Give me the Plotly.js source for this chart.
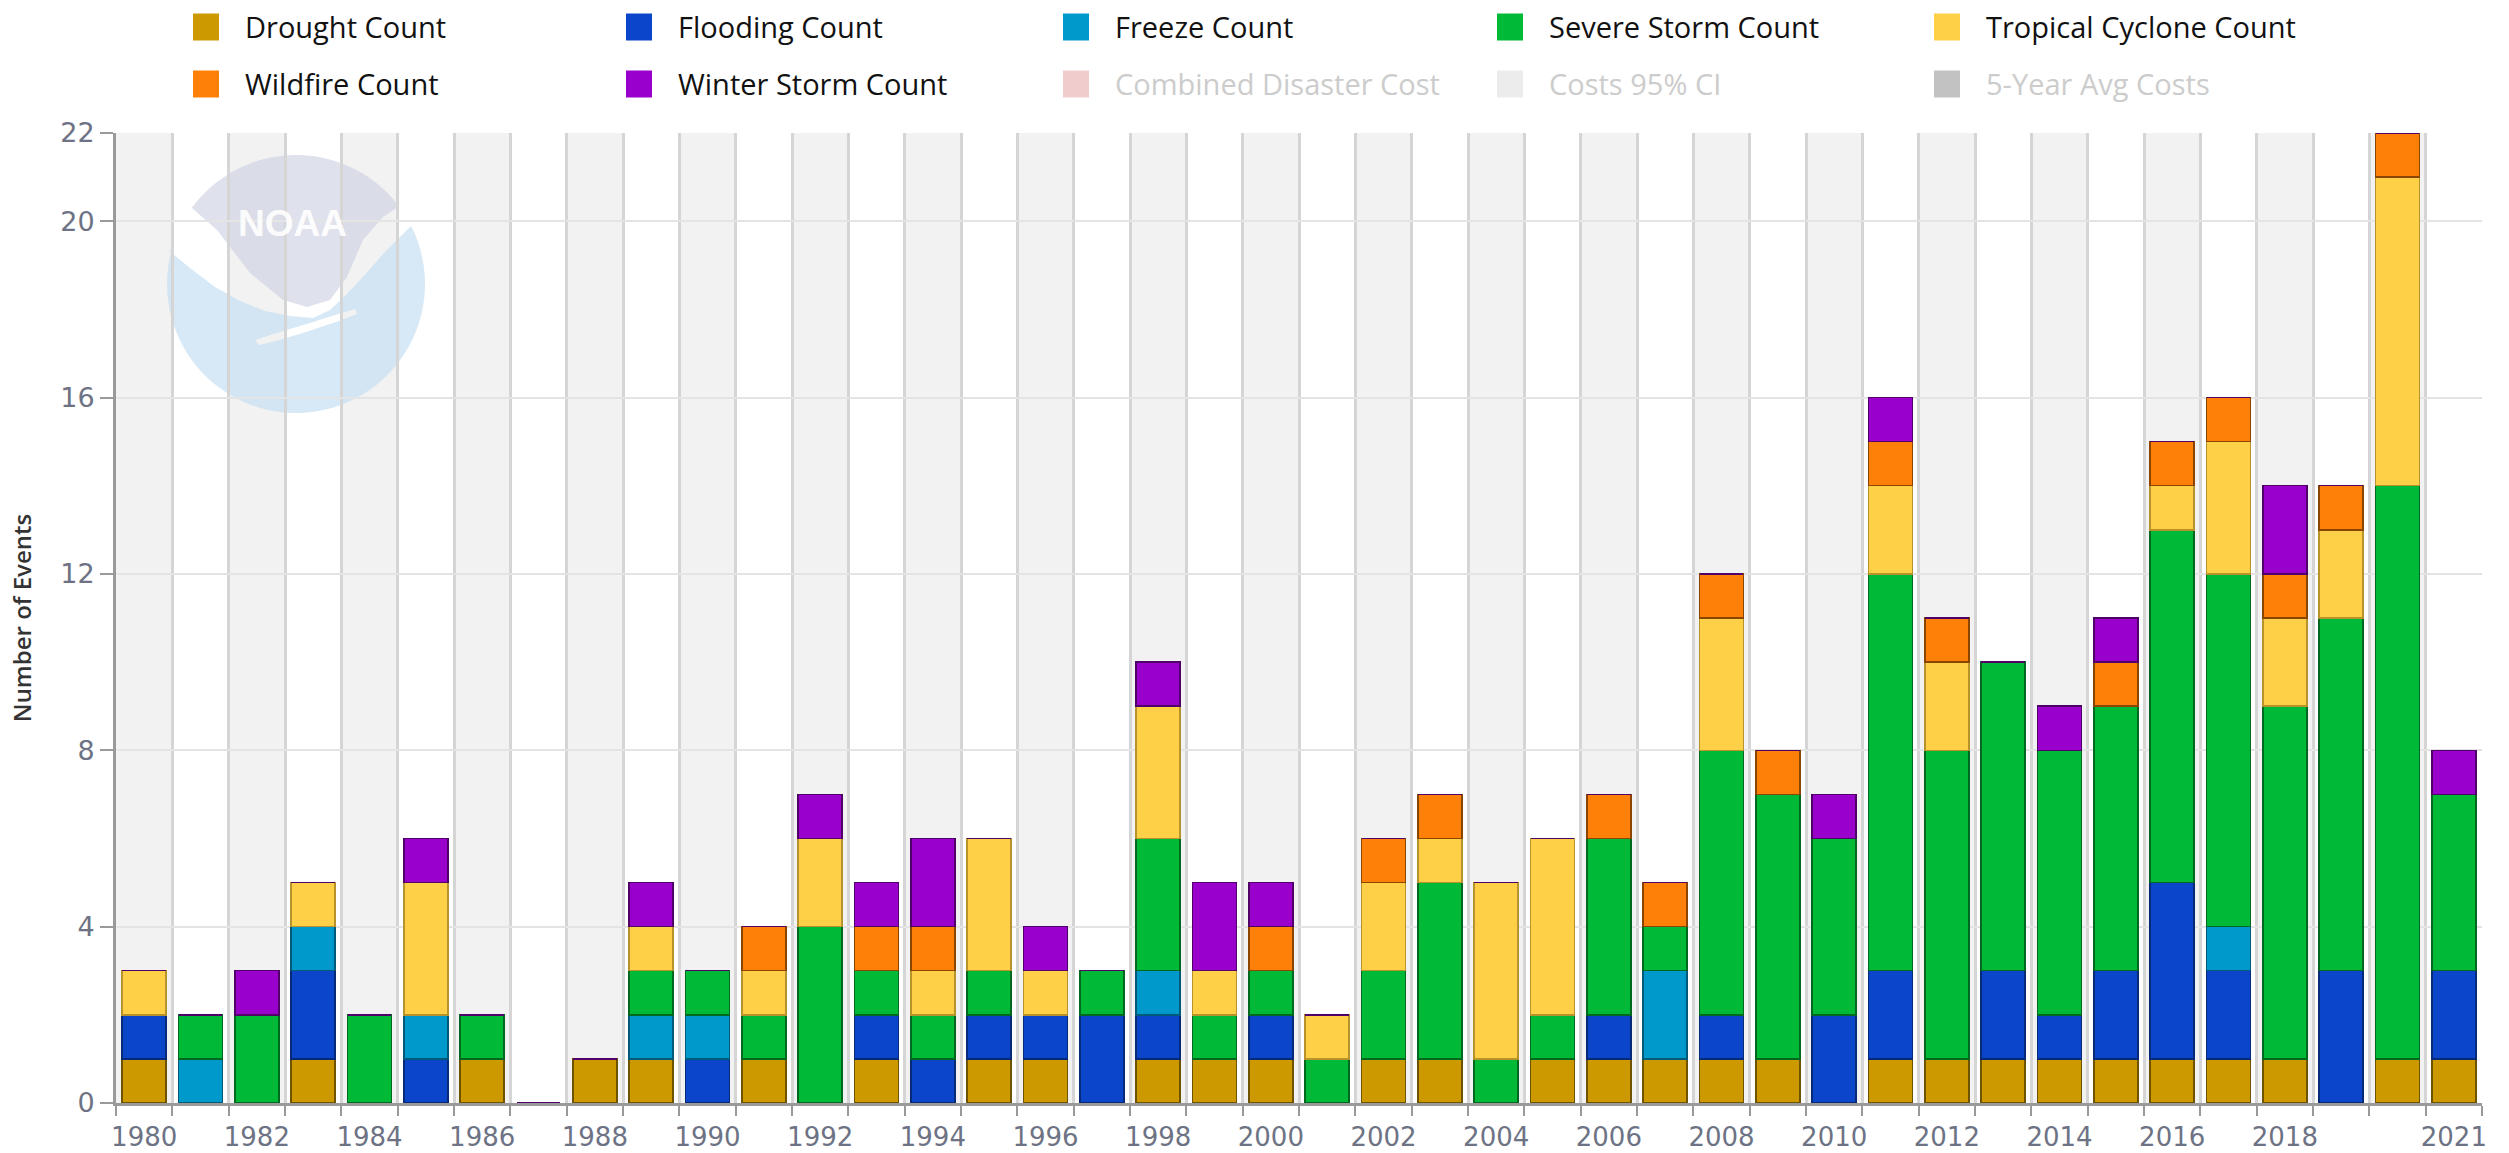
<!DOCTYPE html>
<html>
<head>
<meta charset="utf-8">
<script src="https://cdn.plot.ly/plotly-3.0.1.min.js"></script>
<style>
html,body{margin:0;padding:0;background:#fff;}
#chart{width:2509px;height:1153px;}
</style>
</head>
<body>
<div id="chart"></div>
<script>
// ---- Data ----
const years = [1980,1981,1982,1983,1984,1985,1986,1987,1988,1989,1990,1991,1992,1993,1994,1995,1996,1997,1998,1999,2000,2001,2002,2003,2004,2005,2006,2007,2008,2009,2010,2011,2012,2013,2014,2015,2016,2017,2018,2019,2020,2021];
const droughtCount  = [1,0,0,1,0,0,1,0,1,1,0,1,0,1,0,1,1,0,1,1,1,0,1,1,0,1,1,1,1,1,0,1,1,1,1,1,1,1,1,0,1,1];
const floodingCount = [1,0,0,2,0,1,0,0,0,0,1,0,0,1,1,1,1,2,1,0,1,0,0,0,0,0,1,0,1,0,2,2,0,2,1,2,4,2,0,3,0,2];
const freezeCount   = [0,1,0,1,0,1,0,0,0,1,1,0,0,0,0,0,0,0,1,0,0,0,0,0,0,0,0,2,0,0,0,0,0,0,0,0,0,1,0,0,0,0];
const severeStormCount = [0,1,2,0,2,0,1,0,0,1,1,1,4,1,1,1,0,1,3,1,1,1,2,4,1,1,4,1,6,6,4,9,7,7,6,6,8,8,8,8,13,4];
const tropicalCycloneCount = [1,0,0,1,0,3,0,0,0,1,0,1,2,0,1,3,1,0,3,1,0,1,2,1,4,4,0,0,3,0,0,2,2,0,0,0,1,3,2,2,7,0];
const wildfireCount = [0,0,0,0,0,0,0,0,0,0,0,1,0,1,1,0,0,0,0,0,1,0,1,1,0,0,1,1,1,1,0,1,1,0,0,1,1,1,1,1,1,0];
const winterStormCount = [0,0,1,0,0,1,0,0,0,1,0,0,1,1,2,0,1,0,1,2,1,0,0,0,0,0,0,0,0,0,1,1,0,0,1,1,0,0,2,0,0,1];

const seriesNames = ["Drought Count","Flooding Count","Freeze Count","Severe Storm Count","Tropical Cyclone Count","Wildfire Count","Winter Storm Count"];
const seriesValues = [droughtCount,floodingCount,freezeCount,severeStormCount,tropicalCycloneCount,wildfireCount,winterStormCount];
const seriesColors = ["#cc9900","#0b45c9","#0099cc","#00b936","#fed048","#ff8008","#9900cc"];
const seriesLines  = ["#6e5300","#062a78","#005a78","#00691f","#b8922a","#8a4500","#4f0069"];
const hiddenNames  = ["Combined Disaster Cost","Costs 95% CI","5-Year Avg Costs"];
const hiddenColors = ["#f0cccc","#ececec","#c2c2c2"];

const xTickYears = [1980,1982,1984,1986,1988,1990,1992,1994,1996,1998,2000,2002,2004,2006,2008,2010,2012,2014,2016,2018,2021];
const yTickValues = [0,4,8,12,16,20,22];

// ---- Plot geometry (pixels) ----
const W = 2509, H = 1153;
const PL = 116, PR = 2482, PT = 133, PB = 1103;
function px(x){ return (x - PL) / (PR - PL); }
function py(y){ return (PB - y) / (PB - PT); }
function pt(x, y){ return px(x).toFixed(5) + "," + py(y).toFixed(5); }

// ---- Traces ----
const traces = seriesNames.map((n, i) => ({
  type: "bar",
  name: n,
  x: years,
  y: seriesValues[i],
  marker: {color: seriesColors[i], line: {color: seriesLines[i], width: 1.5}},
  showlegend: false,
  hoverinfo: "x+y+name"
}));

// ---- Shapes: alternating bands ----
const shapes = [];
years.forEach(yr => {
  if (yr % 2 === 0) {
    shapes.push({type: "rect", xref: "x", yref: "paper", x0: yr - 0.5, x1: yr + 0.5, y0: 0, y1: 1,
      fillcolor: "#f2f2f2", line: {width: 0}, layer: "below"});
  }
});

// ---- NOAA watermark (decoration) ----
const cx = 296, cy = 284, R = 129;
function arc(a0, a1, n){
  const out = [];
  for (let k = 0; k <= n; k++){
    const a = (a0 + (a1 - a0) * k / n) * Math.PI / 180;
    out.push(pt(cx + R * Math.cos(a), cy + R * Math.sin(a)));
  }
  return out;
}
const blueBoundary = [[168,250],[190,268],[215,287],[240,301],[265,311],[290,316],[313,318],[330,310],[345,296],[362,278],[385,252],[410,227]];
let bluePath = "M" + blueBoundary.map(p => pt(p[0], p[1])).join("L");
bluePath += "L" + arc(-26.6, 194.9, 60).join("L") + "Z";
const stroke = [[255,340],[280,332],[310,323],[335,315],[355,309],[357,314],[336,322],[306,332],[276,341],[259,345]];
bluePath += " M" + stroke.map(p => pt(p[0], p[1])).join("L") + "Z";
shapes.push({type: "path", xref: "paper", yref: "paper", path: bluePath, fillrule: "evenodd",
  fillcolor: "rgba(196,223,242,0.68)", line: {width: 0}, layer: "below"});
const grayLower = [[398,207],[383,217],[363,240],[347,277],[330,300],[307,307],[283,300],[250,273],[217,230],[192,208]];
let grayPath = "M" + arc(-143.8, -37.1, 40).join("L") + "L" + grayLower.map(p => pt(p[0], p[1])).join("L") + "Z";
shapes.push({type: "path", xref: "paper", yref: "paper", path: grayPath,
  fillcolor: "rgba(204,208,224,0.62)", line: {width: 0}, layer: "below"});

// ---- Custom legend (shapes + annotations) ----
const annotations = [];
const colX = [193, 626, 1063, 1497, 1934];
const rowY = [27, 84];
const legendItems = seriesNames.map((n, i) => ({name: n, color: seriesColors[i], text: "#111111"}))
  .concat(hiddenNames.map((n, i) => ({name: n, color: hiddenColors[i], text: "#cccccc"})));
legendItems.forEach((it, k) => {
  const c = k % 5, r = Math.floor(k / 5);
  const x0 = colX[c], yc = rowY[r];
  shapes.push({type: "rect", xref: "paper", yref: "paper",
    x0: px(x0), x1: px(x0 + 26), y0: py(yc + 13.5), y1: py(yc - 13.5),
    fillcolor: it.color, line: {width: 0}});
  annotations.push({xref: "paper", yref: "paper", x: px(x0 + 50), y: py(yc), xanchor: "left", yanchor: "middle",
    text: it.name, showarrow: false, font: {family: "Open Sans, sans-serif", size: 29, color: it.text}});
});

annotations.push({xref: "paper", yref: "paper", x: px(292), y: py(223), xanchor: "center", yanchor: "middle",
  text: "<b>NOAA</b>", showarrow: false, font: {family: "Liberation Sans, sans-serif", size: 37, color: "rgba(255,255,255,0.92)"}});

const layout = {
  width: W, height: H,
  margin: {l: PL, r: W - PR, t: PT, b: H - PB, pad: 0},
  paper_bgcolor: "#ffffff",
  plot_bgcolor: "#ffffff",
  barmode: "stack",
  bargap: 0.22,
  showlegend: false,
  font: {family: "DejaVu Sans, sans-serif", color: "#6d7384"},
  xaxis: {
    type: "linear",
    range: [1979.5, 2021.5],
    tickmode: "array",
    tickvals: xTickYears,
    ticktext: xTickYears.map(String),
    ticks: "outside", ticklen: 9, tickcolor: "rgba(0,0,0,0)",
    showgrid: false, zeroline: false,
    showline: true, linecolor: "#9a9a9a", linewidth: 3,
    tickfont: {family: "DejaVu Sans, sans-serif", size: 26, color: "#6d7384"},
    minor: {tick0: 1979.5, dtick: 1, ticks: "outside", ticklen: 10, tickwidth: 2, tickcolor: "#9a9a9a",
      showgrid: true, gridcolor: "#d5d5d5", gridwidth: 3},
    fixedrange: true
  },
  yaxis: {
    range: [0, 22],
    tickmode: "array",
    tickvals: yTickValues,
    ticks: "outside", ticklen: 13, tickwidth: 2, tickcolor: "#9a9a9a",
    showgrid: true, gridcolor: "#e4e4e4", gridwidth: 2,
    zeroline: false,
    showline: true, linecolor: "#9a9a9a", linewidth: 3,
    tickfont: {family: "DejaVu Sans, sans-serif", size: 27, color: "#6d7384"},
    title: {text: "Number of Events", standoff: 22,
      font: {family: "Open Sans, sans-serif", size: 24, color: "#333333", weight: 600}},
    fixedrange: true
  },
  shapes: shapes,
  annotations: annotations
};

Plotly.newPlot("chart", traces, layout, {displayModeBar: false, staticPlot: true});
</script>
</body>
</html>
